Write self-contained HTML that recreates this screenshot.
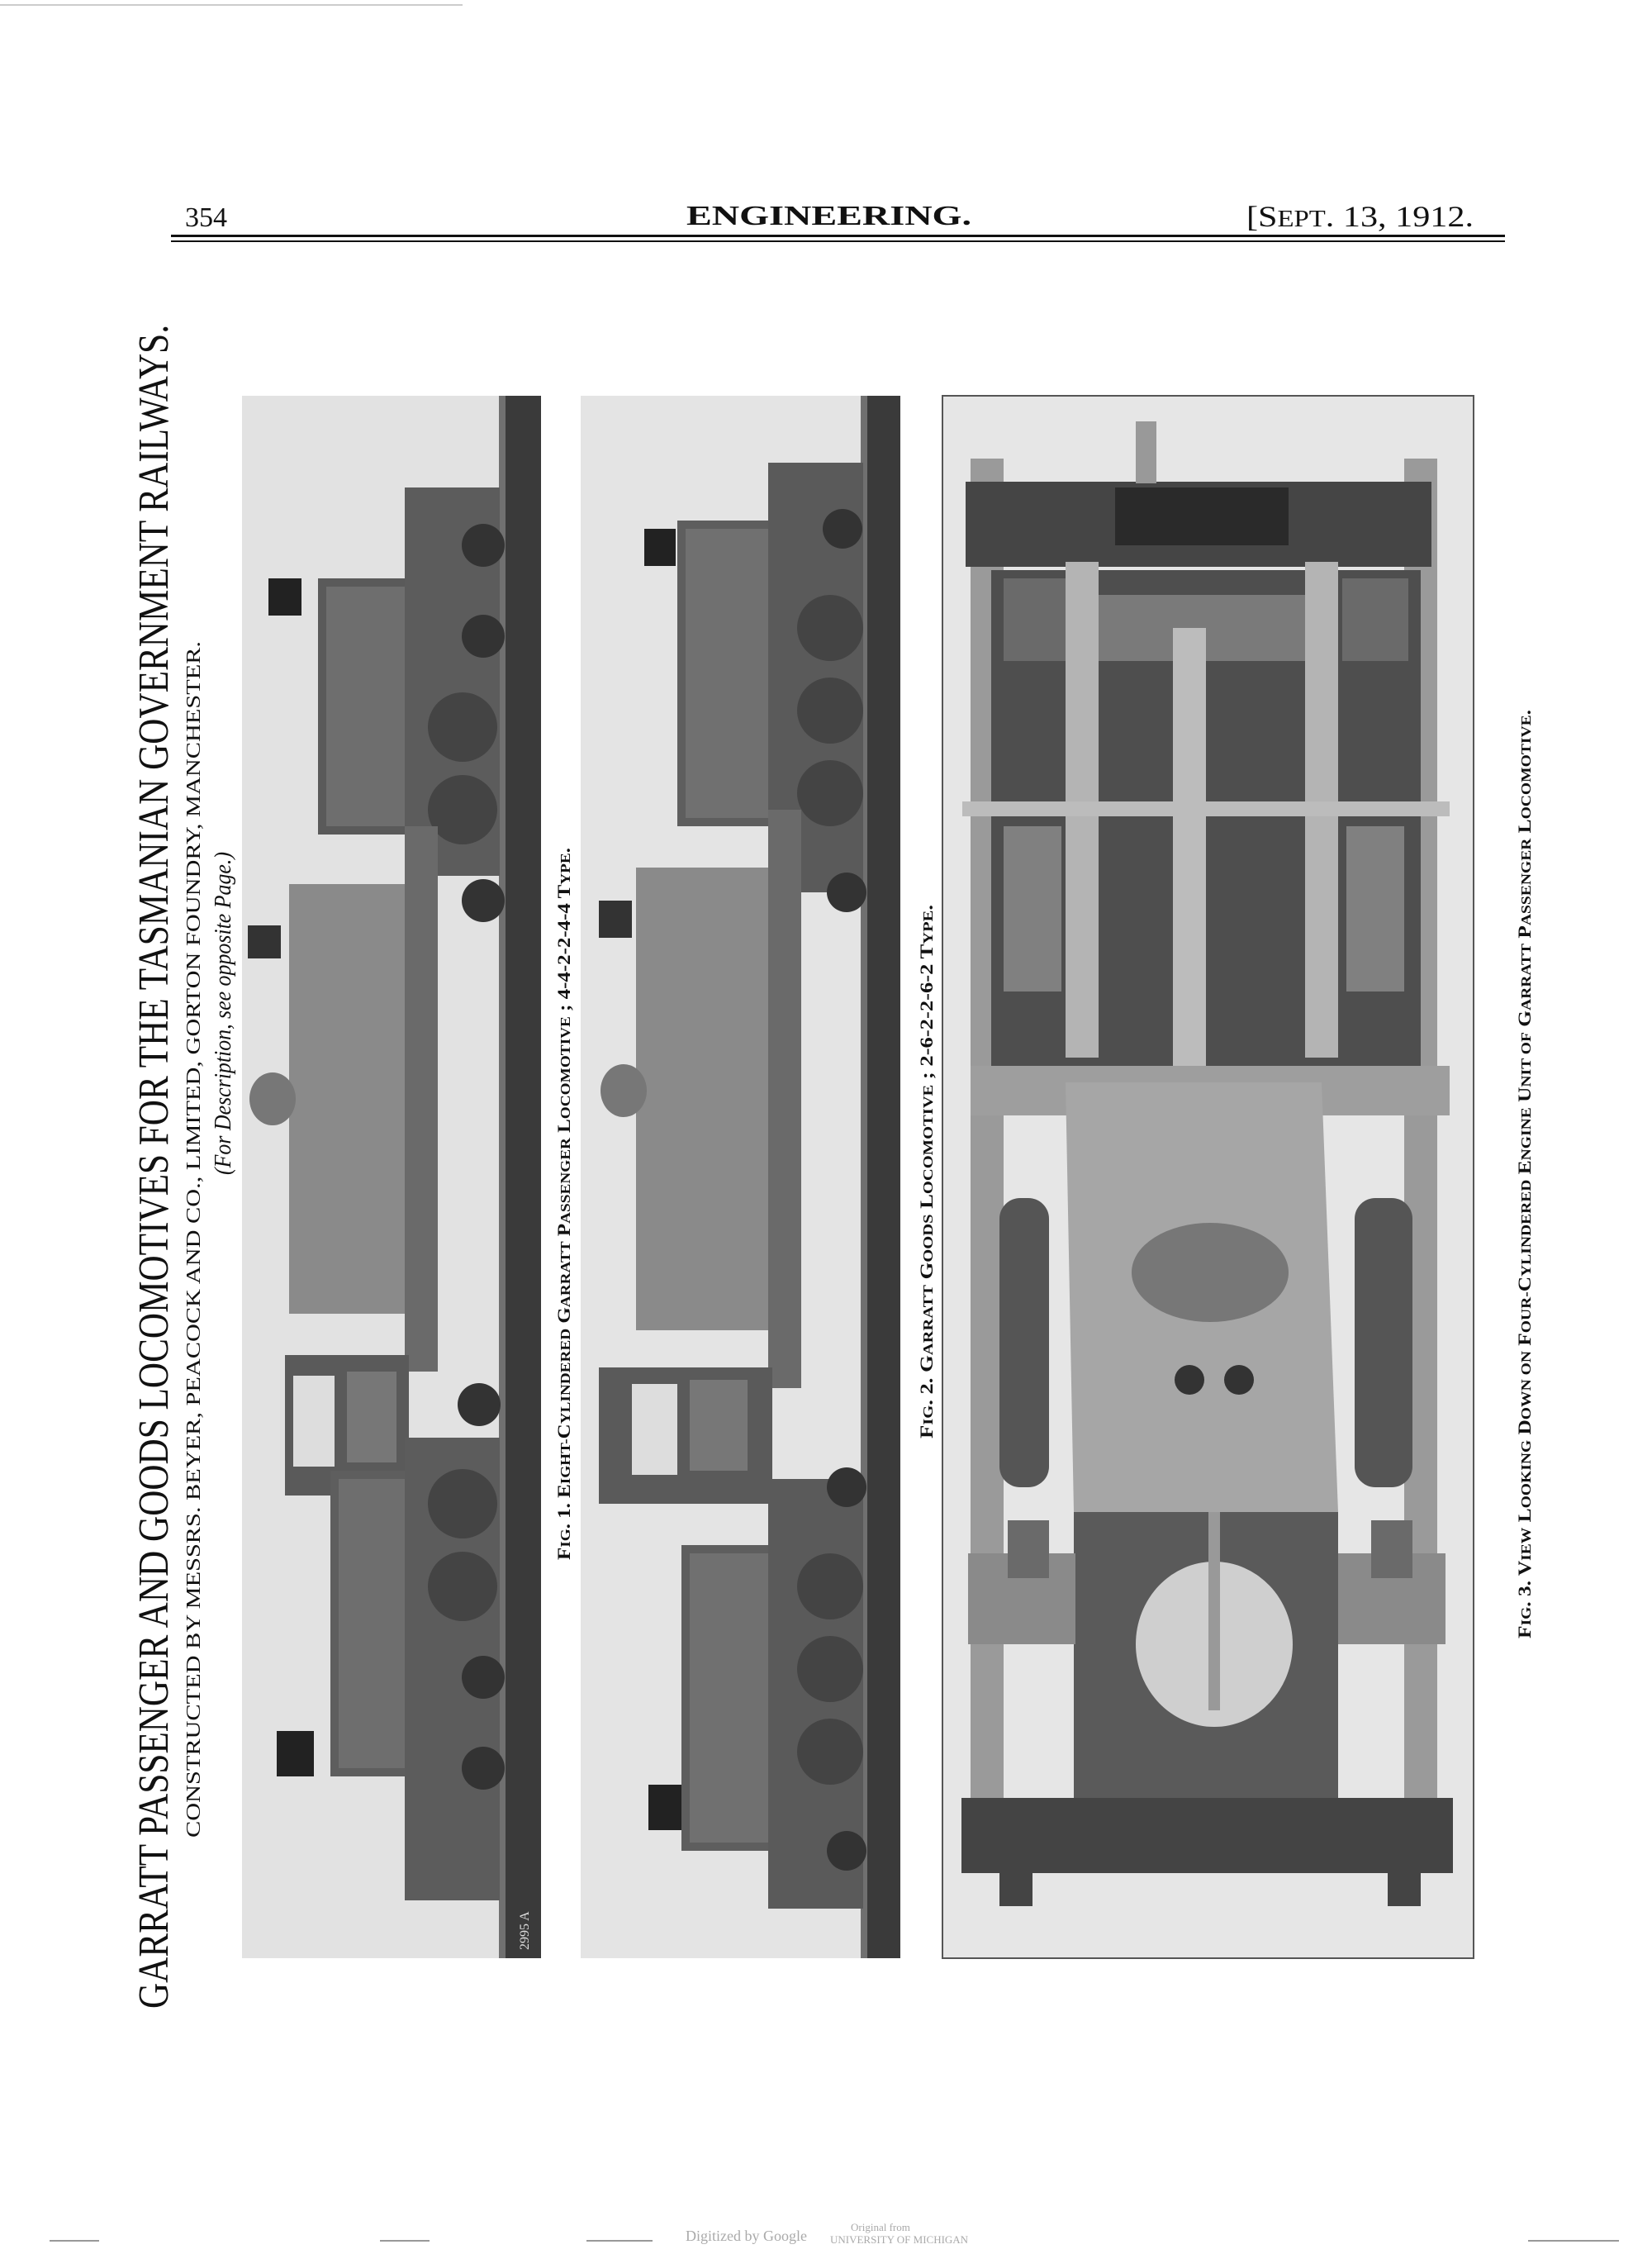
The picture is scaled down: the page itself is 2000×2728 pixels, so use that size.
<!DOCTYPE html>
<html><head><meta charset="utf-8"><style>
html,body{margin:0;padding:0;background:#fff}
svg{display:block}
text{font-family:"Liberation Serif",serif;fill:#111}
</style></head><body>
<svg width="2000" height="2728" viewBox="0 0 2000 2728" xmlns="http://www.w3.org/2000/svg">
<rect width="2000" height="2728" fill="#fff"/>
<line x1="0" y1="6" x2="560" y2="6" stroke="#ccc" stroke-width="2"/>
<text x="224" y="274" font-size="34">354</text>
<text x="831" y="272" font-size="34" textLength="345" lengthAdjust="spacingAndGlyphs" font-weight="bold">ENGINEERING.</text>
<text x="1509" y="274" font-size="36" textLength="275" lengthAdjust="spacingAndGlyphs">[S<tspan font-size="28">EPT</tspan>. 13, 1912.</text>
<rect x="207" y="284" width="1615" height="3" fill="#111"/>
<rect x="207" y="291" width="1615" height="2" fill="#111"/>

<text transform="translate(203,2431) rotate(-90)" font-size="52" textLength="2038" lengthAdjust="spacingAndGlyphs">GARRATT PASSENGER AND GOODS LOCOMOTIVES FOR THE TASMANIAN GOVERNMENT RAILWAYS.</text>
<text transform="translate(242,2224) rotate(-90)" font-size="24" textLength="1448" lengthAdjust="spacingAndGlyphs">CONSTRUCTED BY MESSRS. BEYER, PEACOCK AND CO., LIMITED, GORTON FOUNDRY, MANCHESTER.</text>
<text transform="translate(279,1422) rotate(-90)" font-size="28" font-style="italic" textLength="391" lengthAdjust="spacingAndGlyphs">(For Description, see opposite Page.)</text>

<rect x="293" y="479" width="362" height="1891" fill="#e2e2e2"/>
<rect x="612" y="479" width="43" height="1891" fill="#3a3a3a"/>
<rect x="604" y="479" width="8" height="1891" fill="#707070"/>
<rect x="385" y="700" width="130" height="310" fill="#5a5a5a"/>
<rect x="395" y="710" width="110" height="290" fill="#6e6e6e"/>
<rect x="490" y="590" width="115" height="470" fill="#5c5c5c"/>
<circle cx="585" cy="660" r="26" fill="#333"/><circle cx="585" cy="770" r="26" fill="#333"/>
<circle cx="560" cy="880" r="42" fill="#444"/><circle cx="560" cy="980" r="42" fill="#444"/>
<circle cx="585" cy="1090" r="26" fill="#333"/>
<rect x="325" y="700" width="40" height="45" fill="#222"/>
<rect x="350" y="1070" width="140" height="520" fill="#8a8a8a"/>
<rect x="490" y="1000" width="40" height="660" fill="#6a6a6a"/>
<rect x="300" y="1120" width="40" height="40" fill="#333"/>
<ellipse cx="330" cy="1330" rx="28" ry="32" fill="#777"/>
<rect x="345" y="1640" width="150" height="170" fill="#5a5a5a"/>
<rect x="355" y="1665" width="50" height="110" fill="#ddd"/>
<rect x="420" y="1660" width="60" height="110" fill="#777"/>
<rect x="400" y="1780" width="115" height="370" fill="#5e5e5e"/>
<rect x="410" y="1790" width="95" height="350" fill="#6e6e6e"/>
<rect x="490" y="1740" width="115" height="560" fill="#5c5c5c"/>
<circle cx="580" cy="1700" r="26" fill="#333"/>
<circle cx="560" cy="1820" r="42" fill="#444"/><circle cx="560" cy="1920" r="42" fill="#444"/>
<circle cx="585" cy="2030" r="26" fill="#333"/><circle cx="585" cy="2140" r="26" fill="#333"/>
<rect x="335" y="2095" width="45" height="55" fill="#222"/>
<text transform="translate(640,2360) rotate(-90)" font-size="16" style="fill:#ddd" font-family="Liberation Sans">2995 A</text>
<text transform="translate(690,1888) rotate(-90)" font-size="22" font-weight="bold" textLength="862" lengthAdjust="spacingAndGlyphs">F<tspan font-size="17">IG</tspan>. 1. E<tspan font-size="17">IGHT-</tspan>C<tspan font-size="17">YLINDERED</tspan> G<tspan font-size="17">ARRATT</tspan> P<tspan font-size="17">ASSENGER</tspan> L<tspan font-size="17">OCOMOTIVE</tspan> ; 4-4-2-2-4-4 T<tspan font-size="17">YPE</tspan>.</text>

<rect x="703" y="479" width="387" height="1891" fill="#e4e4e4"/>
<rect x="1050" y="479" width="40" height="1891" fill="#3a3a3a"/>
<rect x="1042" y="479" width="8" height="1891" fill="#707070"/>
<rect x="820" y="630" width="125" height="370" fill="#5e5e5e"/>
<rect x="830" y="640" width="105" height="350" fill="#707070"/>
<rect x="930" y="560" width="115" height="520" fill="#5a5a5a"/>
<circle cx="1020" cy="640" r="24" fill="#333"/>
<circle cx="1005" cy="760" r="40" fill="#444"/><circle cx="1005" cy="860" r="40" fill="#444"/><circle cx="1005" cy="960" r="40" fill="#444"/>
<circle cx="1025" cy="1080" r="24" fill="#333"/>
<rect x="780" y="640" width="38" height="45" fill="#222"/>
<rect x="770" y="1050" width="160" height="560" fill="#8a8a8a"/>
<rect x="930" y="980" width="40" height="700" fill="#6a6a6a"/>
<rect x="725" y="1090" width="40" height="45" fill="#333"/>
<ellipse cx="755" cy="1320" rx="28" ry="32" fill="#777"/>
<rect x="725" y="1655" width="210" height="165" fill="#5a5a5a"/>
<rect x="765" y="1675" width="55" height="110" fill="#ddd"/>
<rect x="835" y="1670" width="70" height="110" fill="#777"/>
<rect x="825" y="1870" width="120" height="370" fill="#5e5e5e"/>
<rect x="835" y="1880" width="100" height="350" fill="#707070"/>
<rect x="930" y="1790" width="115" height="520" fill="#5a5a5a"/>
<circle cx="1025" cy="1800" r="24" fill="#333"/>
<circle cx="1005" cy="1920" r="40" fill="#444"/><circle cx="1005" cy="2020" r="40" fill="#444"/><circle cx="1005" cy="2120" r="40" fill="#444"/>
<circle cx="1025" cy="2240" r="24" fill="#333"/>
<rect x="785" y="2160" width="40" height="55" fill="#222"/>
<text transform="translate(1129,1741) rotate(-90)" font-size="22" font-weight="bold" textLength="646" lengthAdjust="spacingAndGlyphs">F<tspan font-size="17">IG</tspan>. 2. G<tspan font-size="17">ARRATT</tspan> G<tspan font-size="17">OODS</tspan> L<tspan font-size="17">OCOMOTIVE</tspan> ; 2-6-2-2-6-2 T<tspan font-size="17">YPE</tspan>.</text>

<rect x="1141" y="479" width="643" height="1891" fill="#e6e6e6" stroke="#555" stroke-width="2"/>
<rect x="1175" y="555" width="40" height="1710" fill="#9a9a9a"/>
<rect x="1700" y="555" width="40" height="1710" fill="#9a9a9a"/>
<rect x="1200" y="690" width="520" height="660" fill="#4e4e4e"/>
<rect x="1215" y="700" width="80" height="100" fill="#6a6a6a"/>
<rect x="1625" y="700" width="80" height="100" fill="#6a6a6a"/>
<rect x="1330" y="720" width="250" height="80" fill="#7a7a7a"/>
<rect x="1215" y="1000" width="70" height="200" fill="#808080"/>
<rect x="1630" y="1000" width="70" height="200" fill="#808080"/>
<rect x="1169" y="583" width="564" height="103" fill="#454545"/>
<rect x="1350" y="590" width="210" height="70" fill="#2a2a2a"/>
<rect x="1375" y="510" width="25" height="75" fill="#999"/>
<rect x="1290" y="680" width="40" height="600" fill="#b4b4b4"/>
<rect x="1580" y="680" width="40" height="600" fill="#b4b4b4"/>
<rect x="1420" y="760" width="40" height="640" fill="#bcbcbc"/>
<rect x="1165" y="970" width="590" height="18" fill="#bcbcbc"/>
<rect x="1175" y="1290" width="580" height="60" fill="#9e9e9e"/>
<path d="M1290 1310 L1600 1310 L1620 1830 L1300 1830 Z" fill="#a6a6a6"/>
<ellipse cx="1465" cy="1540" rx="95" ry="60" fill="#777"/>
<circle cx="1440" cy="1670" r="18" fill="#333"/><circle cx="1500" cy="1670" r="18" fill="#333"/>
<rect x="1210" y="1450" width="60" height="350" rx="25" fill="#555"/>
<rect x="1640" y="1450" width="70" height="350" rx="25" fill="#555"/>
<rect x="1300" y="1830" width="320" height="350" fill="#5a5a5a"/>
<ellipse cx="1470" cy="1990" rx="95" ry="100" fill="#cfcfcf"/>
<rect x="1463" y="1830" width="14" height="240" fill="#999"/>
<rect x="1172" y="1880" width="130" height="110" fill="#8a8a8a"/>
<rect x="1620" y="1880" width="130" height="110" fill="#8a8a8a"/>
<rect x="1220" y="1840" width="50" height="70" fill="#6a6a6a"/>
<rect x="1660" y="1840" width="50" height="70" fill="#6a6a6a"/>
<rect x="1164" y="2176" width="595" height="91" fill="#444"/>
<rect x="1210" y="2267" width="40" height="40" fill="#444"/>
<rect x="1680" y="2267" width="40" height="40" fill="#444"/>
<text transform="translate(1853,1983) rotate(-90)" font-size="22" font-weight="bold" textLength="1124" lengthAdjust="spacingAndGlyphs">F<tspan font-size="17">IG</tspan>. 3. V<tspan font-size="17">IEW</tspan> L<tspan font-size="17">OOKING</tspan> D<tspan font-size="17">OWN ON</tspan> F<tspan font-size="17">OUR-</tspan>C<tspan font-size="17">YLINDERED</tspan> E<tspan font-size="17">NGINE</tspan> U<tspan font-size="17">NIT OF</tspan> G<tspan font-size="17">ARRATT</tspan> P<tspan font-size="17">ASSENGER</tspan> L<tspan font-size="17">OCOMOTIVE</tspan>.</text>

<text x="830" y="2712" font-size="18" font-family="Liberation Sans" style="fill:#aaa">Digitized by Google</text>
<text x="1030" y="2700" font-size="13" font-family="Liberation Sans" style="fill:#aaa">Original from</text>
<text x="1005" y="2715" font-size="13" font-family="Liberation Sans" style="fill:#aaa">UNIVERSITY OF MICHIGAN</text>
<line x1="60" y1="2712" x2="120" y2="2712" stroke="#999" stroke-width="2"/>
<line x1="460" y1="2712" x2="520" y2="2712" stroke="#999" stroke-width="2"/>
<line x1="710" y1="2712" x2="790" y2="2712" stroke="#999" stroke-width="2"/>
<line x1="1850" y1="2712" x2="1960" y2="2712" stroke="#999" stroke-width="2"/>
</svg>
</body></html>
